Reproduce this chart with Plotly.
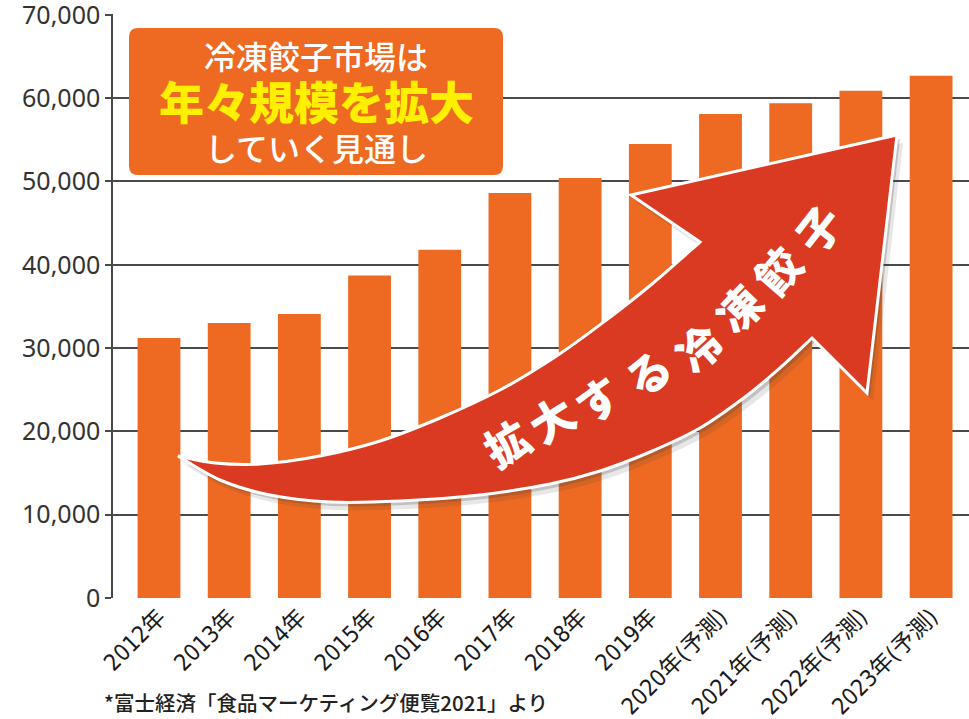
import plotly.graph_objects as go

# ---- data ----
years = ["2012年", "2013年", "2014年", "2015年", "2016年", "2017年", "2018年", "2019年",
         "2020年(予測)", "2021年(予測)", "2022年(予測)", "2023年(予測)"]
market = [31200, 33000, 34100, 38700, 41800, 48600, 50400, 54500, 58100, 59400, 60900, 62700]
y_ticks = [0, 10000, 20000, 30000, 40000, 50000, 60000, 70000]
y_tick_text = ["0", "10,000", "20,000", "30,000", "40,000", "50,000", "60,000", "70,000"]
box_lines = ["冷凍餃子市場は", "年々規模を拡大", "していく見通し"]
arrow_text = "拡大する冷凍餃子"
source_note = "*富士経済「食品マーケティング便覧2021」より"

# ---- layout geometry (pixels in the 969x719 window; body margin removed) ----
W, H = 969, 719
L, R, T, B = 113, 969, 14, 598
Y_TOP = 70100

def px(x):
    return (x - L) / (R - L)

def py(y):
    return (B - y) / (B - T)

BAR = "#EE6A22"
RED = "#D93A21"
YEL = "#FFF000"

fig = go.Figure()
fig.add_trace(go.Bar(
    x=list(range(len(years))), y=market, marker_color=BAR, marker_line_width=0,
    width=0.61, hoverinfo="skip"))

# ---- arrow decoration ----
def catmull(points):
    segs = []
    n = len(points)
    for i in range(n - 1):
        p0 = points[i - 1] if i > 0 else points[i]
        p1 = points[i]
        p2 = points[i + 1]
        p3 = points[i + 2] if i + 2 < n else points[i + 1]
        c1 = (p1[0] + (p2[0] - p0[0]) / 6, p1[1] + (p2[1] - p0[1]) / 6)
        c2 = (p2[0] - (p3[0] - p1[0]) / 6, p2[1] - (p3[1] - p1[1]) / 6)
        segs.append((c1, c2, p2))
    return segs

upper = [(178, 456), (215, 463), (260, 464), (320, 456), (380, 441), (440, 418),
         (500, 390), (555, 357), (605, 321), (652, 284), (700, 242)]
head = [(631, 195), (897, 135), (867, 393), (812, 338)]
lower = [(812, 338), (780, 368), (745, 397), (700, 428), (650, 452), (600, 471),
         (550, 484), (480, 495), (400, 501), (330, 502), (270, 495), (220, 480), (178, 456)]

def arrow_path(dx=0, dy=0):
    def P(p):
        return f"{px(p[0] + dx):.5f},{py(p[1] + dy):.5f}"
    d = "M " + P(upper[0])
    for c1, c2, p in catmull(upper):
        d += f" C {P(c1)} {P(c2)} {P(p)}"
    for p in head:
        d += " L " + P(p)
    for c1, c2, p in catmull(lower):
        d += f" C {P(c1)} {P(c2)} {P(p)}"
    return d + " Z"

fig.add_shape(type="path", path=arrow_path(6, 8), xref="paper", yref="paper",
              fillcolor="rgba(60,60,60,0.12)", line_width=0, layer="above")
fig.add_shape(type="path", path=arrow_path(3, 4), xref="paper", yref="paper",
              fillcolor="rgba(60,60,60,0.22)", line_width=0, layer="above")
fig.add_shape(type="path", path=arrow_path(), xref="paper", yref="paper",
              fillcolor=RED, line=dict(color="white", width=3), layer="above")

char_pos = [(506, 442), (551, 418), (597, 398), (647, 372), (698, 347), (738, 308), (777, 270), (817, 228)]
char_ang = [-30, -32, -35, -38, -42, -46, -49, -52]
for ch, (cx, cy), a in zip(arrow_text, char_pos, char_ang):
    fig.add_annotation(x=px(cx), y=py(cy), xref="paper", yref="paper", text=ch,
                       showarrow=False, textangle=a, xanchor="center", yanchor="middle",
                       font=dict(family="Noto Sans CJK JP", size=44, color="white", weight=900))

# ---- rounded text box ----
bx0, by0, bx1, by1, r = 129, 28, 503, 175, 9
def Pp(x, y):
    return f"{px(x):.5f},{py(y):.5f}"
box = (f"M {Pp(bx0 + r, by0)} L {Pp(bx1 - r, by0)} Q {Pp(bx1, by0)} {Pp(bx1, by0 + r)} "
       f"L {Pp(bx1, by1 - r)} Q {Pp(bx1, by1)} {Pp(bx1 - r, by1)} "
       f"L {Pp(bx0 + r, by1)} Q {Pp(bx0, by1)} {Pp(bx0, by1 - r)} "
       f"L {Pp(bx0, by0 + r)} Q {Pp(bx0, by0)} {Pp(bx0 + r, by0)} Z")
fig.add_shape(type="path", path=box, xref="paper", yref="paper",
              fillcolor=BAR, line_width=0, layer="above")
box_specs = [(55, 32, "white", 500), (100, 45, YEL, 900), (147, 32, "white", 500)]
for txt, (cy, sz, col, wt) in zip(box_lines, box_specs):
    fig.add_annotation(x=px(316), y=py(cy), xref="paper", yref="paper", text=txt,
                       showarrow=False, xanchor="center", yanchor="middle",
                       font=dict(family="Noto Sans CJK JP", size=sz, color=col, weight=wt))

# ---- source note ----
fig.add_annotation(x=px(102), y=py(702), xref="paper", yref="paper", text=source_note,
                   showarrow=False, xanchor="left", yanchor="middle",
                   font=dict(family="Noto Sans CJK JP", size=20.5, color="#222", weight=500))

fig.update_layout(
    width=W, height=H,
    margin=dict(l=L, r=W - R, t=T, b=H - B, autoexpand=False),
    paper_bgcolor="white", plot_bgcolor="white", showlegend=False,
    xaxis=dict(range=[-0.655, 11.54], tickmode="array", tickvals=list(range(len(years))),
               ticktext=years, tickangle=-45, showgrid=False, zeroline=False,
               showline=False, ticks="", automargin=False,
               tickfont=dict(family="Liberation Sans Narrow, DejaVu Sans Condensed, Noto Sans CJK JP",
                             size=23, color="#1a1a1a")),
    yaxis=dict(range=[0, Y_TOP], tickmode="array", tickvals=y_ticks, ticktext=y_tick_text,
               showgrid=True, gridcolor="#4a4a4a", gridwidth=1.5, zeroline=False,
               showline=True, linecolor="#4a4a4a", linewidth=1.5, automargin=False,
               ticks="outside", ticklen=6, tickcolor="#4a4a4a", tickwidth=1.5,
               ticklabeloverflow="allow",
               tickfont=dict(family="Noto Sans", size=25, color="#333")),
)

fig.write_html("out.html", config={"displayModeBar": False},
               post_script="document.body.style.margin='0';document.body.style.overflow='hidden';")
